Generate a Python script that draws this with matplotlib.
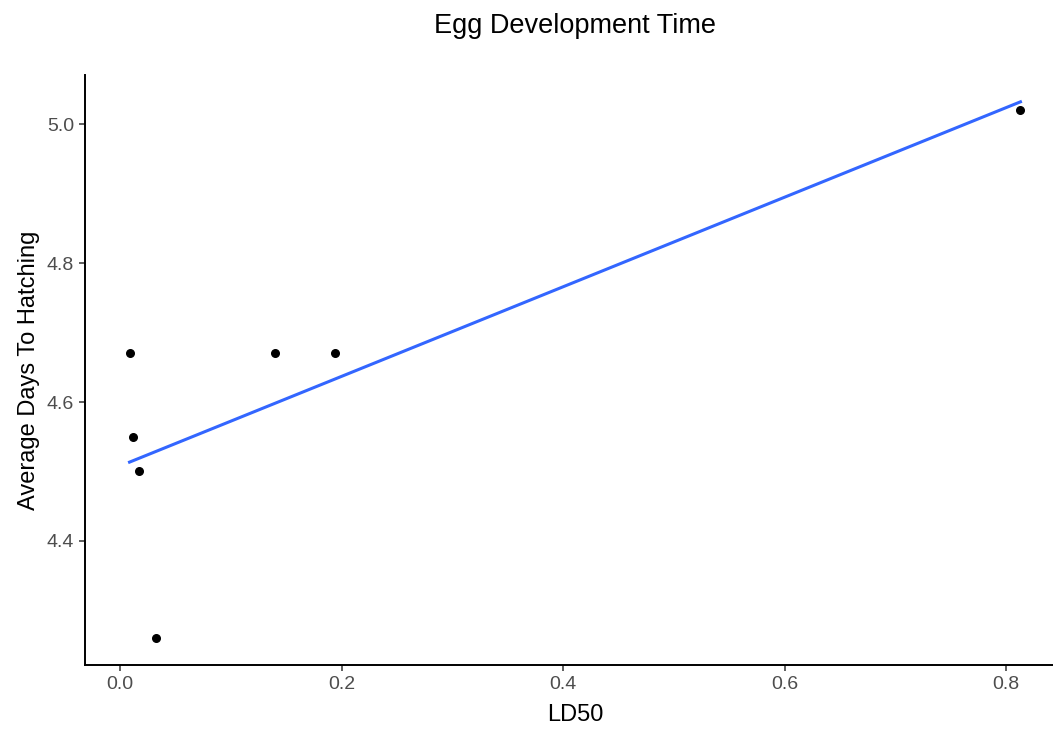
import numpy as np
import matplotlib as mpl
import matplotlib.pyplot as plt

mpl.rcParams['font.family'] = ['Liberation Sans', 'DejaVu Sans']

# LD50 vs mean hatching time
ld50 = [0.0085, 0.0112, 0.0169, 0.0322, 0.140, 0.194, 0.813]
days = [4.67, 4.55, 4.50, 4.26, 4.67, 4.67, 5.02]

x = np.array(ld50)
y = np.array(days)

# least squares fit, like geom_smooth(method = "lm", se = FALSE)
slope, icept = np.polyfit(x, y, 1)
xfit = np.linspace(x.min(), x.max(), 80)
yfit = icept + slope * xfit

fig = plt.figure(figsize=(10.53, 7.3), dpi=100)
# panel runs a little past the right edge of the figure
ax = fig.add_axes([85 / 1053, 1 - 665 / 730, 980 / 1053, 590 / 730])

ax.plot(xfit, yfit, color='#3366FF', linewidth=2.2, zorder=2)
ax.scatter(x, y, s=30, color='black', zorder=3)

# 5% padding on each side, ggplot style
def padded(lo, hi, f=0.05):
    d = (hi - lo) * f
    return lo - d, hi + d

ax.set_xlim(*padded(x.min(), x.max()))
ax.set_ylim(*padded(min(y.min(), yfit.min()), max(y.max(), yfit.max())))

ax.set_xticks([0.0, 0.2, 0.4, 0.6, 0.8])
ax.set_yticks([4.4, 4.6, 4.8, 5.0])
ax.xaxis.set_major_formatter(mpl.ticker.FormatStrFormatter('%.1f'))
ax.yaxis.set_major_formatter(mpl.ticker.FormatStrFormatter('%.1f'))

for side in ['top', 'right']:
    ax.spines[side].set_visible(False)
for side in ['left', 'bottom']:
    ax.spines[side].set_linewidth(1.4)
    ax.spines[side].set_color('black')

ax.tick_params(axis='both', length=4, width=1.1, color='#333333',
               labelcolor='#4D4D4D', labelsize=14, pad=4)

ax.set_xlabel('LD50', fontsize=17, color='black', labelpad=8)
ax.set_ylabel('Average Days To Hatching', fontsize=17, color='black', labelpad=5)
ax.set_title('Egg Development Time', fontsize=19.5, color='black', pad=30)

fig.savefig('out.png', dpi=100)
